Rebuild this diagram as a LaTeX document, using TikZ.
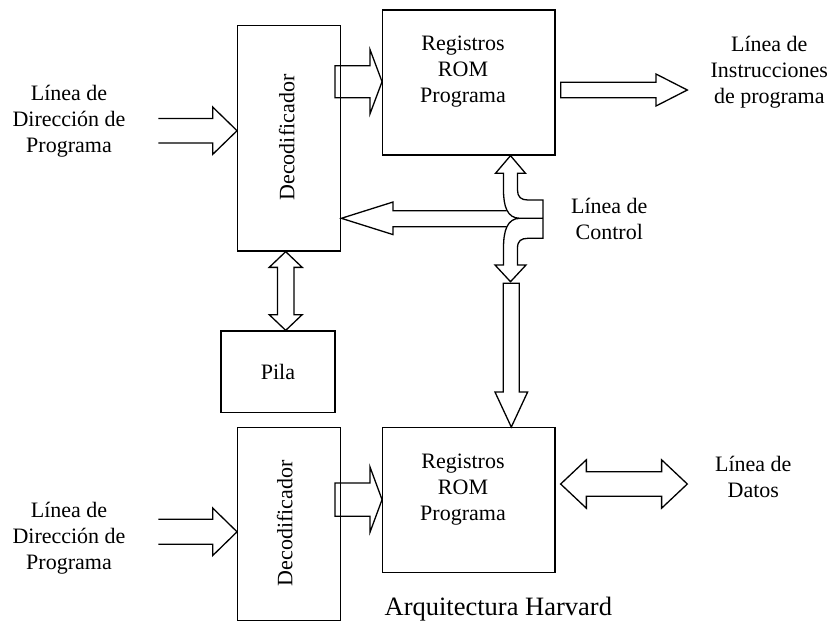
\documentclass[tikz,border=0pt]{standalone}
\usepackage{fontspec}
\setmainfont{Liberation Serif}
\usetikzlibrary{calc}

% hollow block arrows
% right-pointing, closed tail: #1 tail ref, #2 tip, #3 body half, #4 head half, #5 head length
\newcommand\arrowRight[5]{%
  \draw[hollow] ($(#1|-#2)+(0,-#3)$) -- ($(#2)+(-#5,-#3)$) -- ($(#2)+(-#5,-#4)$) -- (#2)
    -- ($(#2)+(-#5,#4)$) -- ($(#2)+(-#5,#3)$) -- ($(#1|-#2)+(0,#3)$) -- cycle;}
% right-pointing, open tail
\newcommand\arrowRightOpen[5]{%
  \draw[hollow] ($(#1|-#2)+(0,-#3)$) -- ($(#2)+(-#5,-#3)$) -- ($(#2)+(-#5,-#4)$) -- (#2)
    -- ($(#2)+(-#5,#4)$) -- ($(#2)+(-#5,#3)$) -- ($(#1|-#2)+(0,#3)$);}
% horizontal double arrow: #1 left tip, #2 right tip
\newcommand\arrowBoth[5]{%
  \draw[hollow] (#1) -- ($(#1)+(#5,-#4)$) -- ($(#1)+(#5,-#3)$) -- ($(#2|-#1)+(-#5,-#3)$)
    -- ($(#2|-#1)+(-#5,-#4)$) -- (#2|-#1) -- ($(#2|-#1)+(-#5,#4)$) -- ($(#2|-#1)+(-#5,#3)$)
    -- ($(#1)+(#5,#3)$) -- ($(#1)+(#5,#4)$) -- cycle;}
% vertical double arrow: #1 top tip, #2 bottom tip
\newcommand\arrowUpDown[5]{%
  \draw[hollow] (#1) -- ($(#1)+(#4,#5)$) -- ($(#1)+(#3,#5)$) -- ($(#1|-#2)+(#3,-#5)$)
    -- ($(#1|-#2)+(#4,-#5)$) -- (#1|-#2) -- ($(#1|-#2)+(-#4,-#5)$) -- ($(#1|-#2)+(-#3,-#5)$)
    -- ($(#1)+(-#3,#5)$) -- ($(#1)+(-#4,#5)$) -- cycle;}
% downward arrow, closed tail: #1 tail ref, #2 tip
\newcommand\arrowDown[5]{%
  \draw[hollow] ($(#2|-#1)+(-#3,0)$) -- ($(#2)+(-#3,-#5)$) -- ($(#2)+(-#4,-#5)$) -- (#2)
    -- ($(#2)+(#4,-#5)$) -- ($(#2)+(#3,-#5)$) -- ($(#2|-#1)+(#3,0)$) -- cycle;}

\begin{document}
\begin{tikzpicture}[x=1pt,y=-1pt,
  box/.style={draw, line width=1.3pt, inner sep=0pt, font=\fontsize{22}{26}\selectfont},
  hollow/.style={draw, line width=1.3pt, line join=miter},
  txt/.style={font=\fontsize{22}{26}\selectfont, align=center, inner sep=0pt}]

\useasboundingbox (0,0) rectangle (830,622);
\fill[white] (0,0) rectangle (830,622);

% blocks
\node[box, minimum width=103pt, minimum height=225.3pt] (dec1) at (289.2,138.35) {};
\node[box, minimum width=172.3pt, minimum height=145pt] (rom1) at (468.85,82.5) {};
\node[box, minimum width=114pt, minimum height=81.3pt] (pila) at (278,371.65) {Pila};
\node[box, minimum width=103pt, minimum height=193pt] (dec2) at (289.2,524.2) {};
\node[box, minimum width=172.3pt, minimum height=145pt] (rom2) at (468.85,500.2) {};

% block texts
\node[txt, rotate=90] (dec1t) at ($(dec1)+(-2.5,-0.8)$) {Decodificador};
\node[txt, rotate=90] (dec2t) at ($(dec2)+(-4.5,-0.9)$) {Decodificador};
\node[txt] (rom1t) at (463,72) {Registros\\ROM\\Programa};
\node[txt] (rom2t) at (463,489.5) {Registros\\ROM\\Programa};

% side labels
\node[txt] (in1l) at (69,121) {Línea de\\Dirección de\\Programa};
\node[txt] (in2l) at (69,538.5) {Línea de\\Dirección de\\Programa};
\node[txt] (instl) at (769.3,72.5) {Línea de\\Instrucciones\\de programa};
\node[txt] (ctrll) at (609.3,219) {Línea de\\Control};
\node[txt] (datl) at (753.3,477.3) {Línea de\\Datos};
\node[font=\fontsize{26.5}{30}\selectfont, anchor=base, inner sep=0pt] (title) at (498.3,615.5) {Arquitectura Harvard};

% program address input, top
\coordinate (in1tail) at (158.3,130.7);
\coordinate (in1tip) at (dec1.west |- in1tail);
\arrowRightOpen{in1tail}{in1tip}{12.2}{23.7}{24.4}

% decoder to ROM, top
\coordinate (d1tail) at ($(dec1.east)+(-6.4,0)$);
\coordinate (d1tip) at ($(rom1.west)+(0,-0.8)$);
\arrowRight{d1tail}{d1tip}{16}{32}{12}

% instruction output
\coordinate (o1tail) at ($(rom1.east)+(5,0)$);
\coordinate (o1tip) at (687.3,90);
\arrowRight{o1tail}{o1tip}{7.7}{16}{31.3}

% decoder <-> stack
\coordinate (ptop) at ($(dec1.south)+(-3.5,0)$);
\coordinate (pbot) at (pila.north -| ptop);
\arrowUpDown{ptop}{pbot}{8.2}{16.5}{15.7}

% control line: branch to the decoder
\coordinate (fork) at (520,218.3);
\coordinate (ctip) at (dec1.east |- fork);
\draw[hollow] ($(fork)+(-13.5,-7.6)$) -- ($(ctip)+(51.7,-7.6)$) -- ($(ctip)+(51.7,-16.3)$) -- (ctip)
  -- ($(ctip)+(51.7,16.3)$) -- ($(ctip)+(51.7,8.4)$) -- ($(fork)+(-13.5,8.4)$);

% control line: split up to the ROM and down to the data memory
\coordinate (uptip) at ($(rom1.south -| fork)+(-9.5,0)$);
\coordinate (dntip) at (510.5,281.7);
\draw[hollow] (fork) .. controls (507,218.3) and (503.5,206) .. (503.5,190)
  -- (503.5,173.3) -- (495.5,173.3) -- (uptip) -- (525.5,173.3) -- (517.5,173.3)
  -- (517.5,190) .. controls (517.5,197) and (521,200) .. (528,200)
  -- (543,200) -- (543,238.3) -- (528,238.3)
  .. controls (521,238.3) and (517.5,241) .. (517.5,248)
  -- (517.5,265) -- (526,265) -- (dntip) -- (495,265) -- (503.5,265)
  -- (503.5,248) .. controls (503.5,231) and (507,218.3) .. (fork) -- (543,218.3);

% control line down to the lower ROM
\coordinate (vtail) at (511.3,283.3);
\coordinate (vtip) at (rom2.north -| vtail);
\arrowDown{vtail}{vtip}{8}{16.3}{35}

% program address input, bottom
\coordinate (in2tail) at (158.3,531.8);
\coordinate (in2tip) at (dec2.west |- in2tail);
\arrowRightOpen{in2tail}{in2tip}{12.5}{23.8}{24.4}

% decoder to ROM, bottom
\coordinate (d2tail) at ($(dec2.east)+(-6.4,0)$);
\coordinate (d2tip) at ($(rom2.west)+(0,-0.6)$);
\arrowRight{d2tail}{d2tip}{16.7}{32.5}{12}

% data line
\coordinate (dl) at ($(rom2.east)+(5,-16.2)$);
\coordinate (dr) at (687.3,484);
\arrowBoth{dl}{dr}{12.2}{24.2}{25.7}

\end{tikzpicture}
\end{document}
